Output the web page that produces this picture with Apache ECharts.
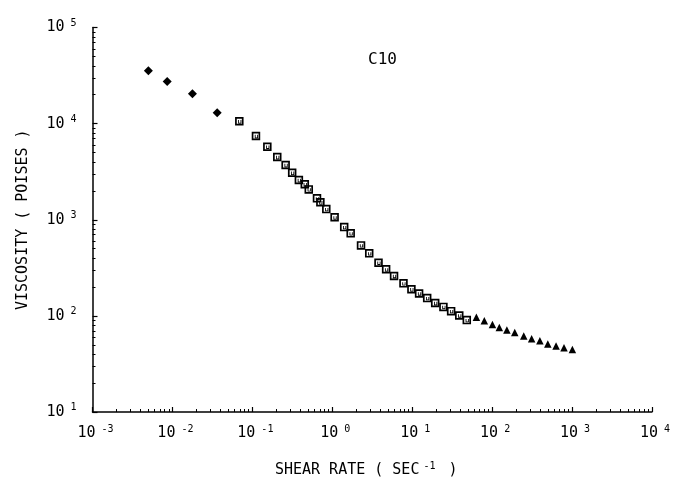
<!DOCTYPE html>
<html>
<head>
<meta charset="utf-8">
<script src="https://cdn.jsdelivr.net/npm/echarts@6/dist/echarts.min.js"></script>
<style>html,body{margin:0;padding:0;background:#fff;}#c{width:673px;height:484px;}</style>
</head>
<body>
<div id="c"></div>
<script>
// Shear rate (1/s) and viscosity (poises) for sample C10
const diamondX = [0.0050, 0.0086, 0.0178, 0.0363];
const diamondY = [35500, 27500, 20500, 13000];
const squareX = [0.0687, 0.111, 0.154, 0.205, 0.261, 0.315, 0.382, 0.453, 0.508, 0.644, 0.710, 0.842, 1.07, 1.41, 1.70, 2.29, 2.90, 3.79, 4.72, 5.93, 7.78, 9.78, 12.2, 15.4, 19.4, 24.6, 30.7, 38.8, 48.2];
const squareY = [10570, 7430, 5750, 4490, 3710, 3080, 2590, 2340, 2070, 1670, 1520, 1290, 1060, 839, 722, 541, 447, 357, 305, 260, 218, 189, 171, 153, 136, 124, 112, 101, 90.4];
const triangleX = [63.6, 79.9, 101, 123, 153, 192, 249, 312, 396, 498, 631, 793, 1010];
const triangleY = [96.5, 88.9, 81.5, 75.9, 71.1, 67.3, 61.6, 57.8, 55.1, 50.9, 48.5, 46.6, 44.8];
const xTickExponents = [-3, -2, -1, 0, 1, 2, 3, 4];
const yTickExponents = [1, 2, 3, 4, 5];
const chartTitle = 'C10';
const xTitle = 'SHEAR RATE ( SEC';
const yTitle = 'VISCOSITY ( POISES )';

const FONT = 'DejaVu Sans Mono';
const zip = (a, b) => a.map((v, i) => [v, b[i]]);
const expLabel = v => {
  const e = Math.round(Math.log10(v));
  return '{b|10}{s|' + (e < 0 ? '-' + (-e) : e) + '}';
};
const richTick = {
  b: { fontFamily: FONT, fontSize: 15, color: '#000' },
  s: { fontFamily: FONT, fontSize: 10, color: '#000', verticalAlign: 'top', padding: [0, 0, 9, 6] }
};
const squarePath = 'path://M0,0H10V10H0Z M2,2V8H8V2Z M3.6,3.6H4.6V6.6H6.4V3.6H7.4V7.6H3.6Z';

const chart = echarts.init(document.getElementById('c'), null, { renderer: 'canvas' });
chart.setOption({
  animation: false,
  backgroundColor: '#fff',
  title: {
    text: chartTitle, left: 363, top: 47,
    textStyle: { fontFamily: FONT, fontSize: 16, fontWeight: 'normal', color: '#000' }
  },
  grid: { left: 92.5, right: 17, top: 27.5, bottom: 72 },
  xAxis: {
    type: 'log', logBase: 10, min: Math.pow(10, xTickExponents[0]), max: Math.pow(10, xTickExponents[xTickExponents.length - 1]),
    interval: 1,
    name: '{n|' + xTitle + '}{s|-1}{n| )}',
    nameLocation: 'middle', nameGap: 49,
    nameTextStyle: {
      padding: [0, 12, 0, 0],
      rich: {
        n: { fontFamily: FONT, fontSize: 15, color: '#000' },
        s: { fontFamily: FONT, fontSize: 10, color: '#000', verticalAlign: 'top', padding: [0, 4, 9, 4] }
      }
    },
    axisLine: { show: true, lineStyle: { color: '#000', width: 1.5 } },
    axisTick: { show: true, inside: true, length: 5, lineStyle: { color: '#000', width: 1.2 } },
    minorTick: { show: true, splitNumber: 9, length: 3, lineStyle: { color: '#000', width: 1 } },
    splitLine: { show: false },
    axisLabel: { margin: 12, formatter: expLabel, rich: richTick, padding: [0, 0, 0, 6] }
  },
  yAxis: {
    type: 'log', logBase: 10, min: Math.pow(10, yTickExponents[0]), max: Math.pow(10, yTickExponents[yTickExponents.length - 1]),
    interval: 1,
    name: yTitle, nameLocation: 'middle', nameGap: 62, nameRotate: 90,
    nameTextStyle: { fontFamily: FONT, fontSize: 15, color: '#000' },
    axisLine: { show: true, lineStyle: { color: '#000', width: 1.5 } },
    axisTick: { show: true, inside: true, length: 5, lineStyle: { color: '#000', width: 1.2 } },
    minorTick: { show: true, splitNumber: 9, length: 3, lineStyle: { color: '#000', width: 1 } },
    splitLine: { show: false },
    axisLabel: { margin: 16, formatter: expLabel, rich: richTick }
  },
  series: [
    {
      type: 'scatter', data: zip(diamondX, diamondY), symbol: 'diamond', symbolSize: 9,
      itemStyle: { color: '#000', opacity: 1 }
    },
    {
      type: 'scatter', data: zip(squareX, squareY), symbol: squarePath, symbolSize: 8.5,
      itemStyle: { color: '#000', opacity: 1 }
    },
    {
      type: 'scatter', data: zip(triangleX, triangleY), symbol: 'triangle', symbolSize: 7.5,
      itemStyle: { color: '#000', opacity: 1 }
    }
  ]
});
</script>
</body>
</html>
